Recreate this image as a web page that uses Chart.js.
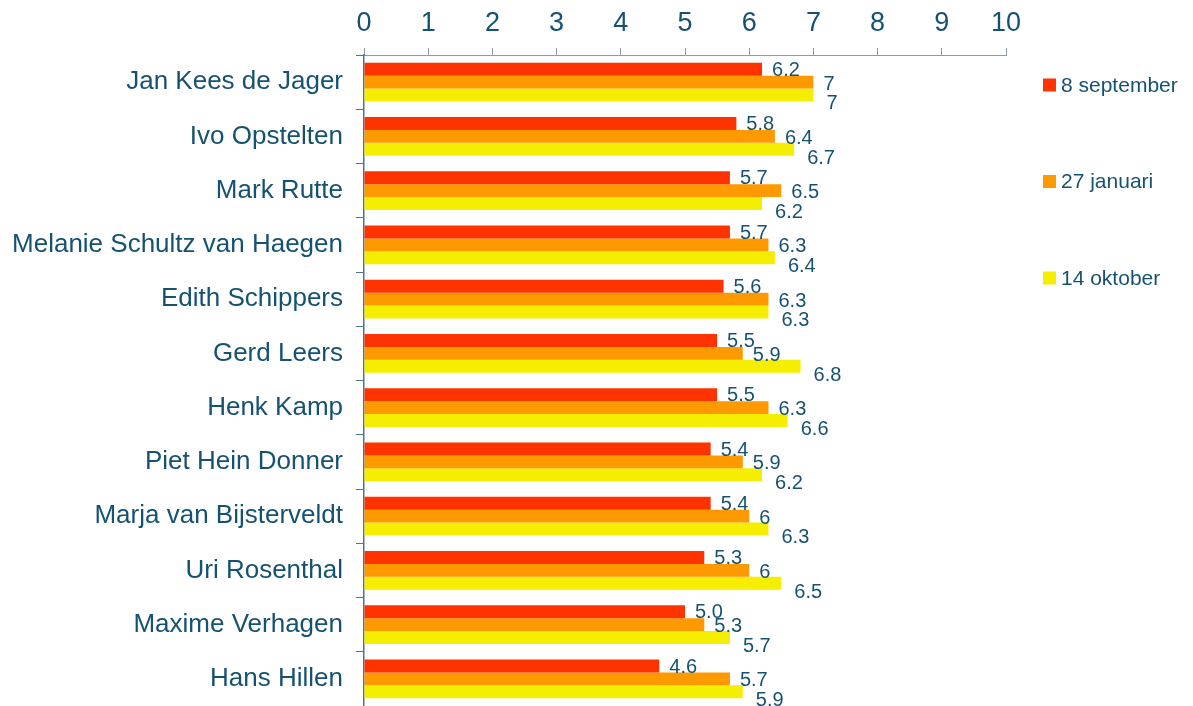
<!DOCTYPE html>
<html>
<head>
<meta charset="utf-8">
<script src="https://cdn.jsdelivr.net/npm/chart.js@4"></script>
<style>
  body { margin: 0; background: #fff; }
  #wrap { width: 1193px; height: 706px; }
</style>
</head>
<body>
<div id="wrap"><canvas id="myBarChart"></canvas></div>
<script>
var names = ['Jan Kees de Jager', 'Ivo Opstelten', 'Mark Rutte', 'Melanie Schultz van Haegen',
  'Edith Schippers', 'Gerd Leers', 'Henk Kamp', 'Piet Hein Donner', 'Marja van Bijsterveldt',
  'Uri Rosenthal', 'Maxime Verhagen', 'Hans Hillen'];
var september = [6.2, 5.8, 5.7, 5.7, 5.6, 5.5, 5.5, 5.4, 5.4, 5.3, 5.0, 4.6];
var januari = [7, 6.4, 6.5, 6.3, 6.3, 5.9, 6.3, 5.9, 6, 6, 5.3, 5.7];
var oktober = [7, 6.7, 6.2, 6.4, 6.3, 6.8, 6.6, 6.2, 6.3, 6.5, 5.7, 5.9];
var xTicks = [0, 1, 2, 3, 4, 5, 6, 7, 8, 9, 10];

var textColor = '#155272';
var fontFamily = '"Liberation Sans", Arial, sans-serif';

var data = {
  labels: names,
  datasets: [
    { label: '8 september', data: september, backgroundColor: '#FF3300', decimals: 1 },
    { label: '27 januari', data: januari, backgroundColor: '#FF9900', decimals: 0 },
    { label: '14 oktober', data: oktober, backgroundColor: '#F5EE00', decimals: 0 }
  ]
};

// value labels next to the bar ends
var labelOffsets = [[10, 1], [10, 2], [13, 9]];
var valueLabels = {
  id: 'valueLabels',
  afterDatasetsDraw: function(chart) {
    var ctx = chart.ctx;
    ctx.save();
    ctx.fillStyle = textColor;
    ctx.font = '20px ' + fontFamily;
    ctx.textAlign = 'left';
    ctx.textBaseline = 'middle';
    chart.data.datasets.forEach(function(ds, i) {
      chart.getDatasetMeta(i).data.forEach(function(bar, j) {
        var v = ds.data[j];
        var txt = ds.decimals ? v.toFixed(1) : String(v);
        ctx.fillText(txt, bar.x + labelOffsets[i][0], bar.y + labelOffsets[i][1]);
      });
    });
    ctx.restore();
  }
};

// legend spread down the right side
var sideLegend = {
  id: 'sideLegend',
  afterDraw: function(chart) {
    var ctx = chart.ctx;
    var area = chart.chartArea;
    ctx.save();
    ctx.font = '21px ' + fontFamily;
    ctx.textBaseline = 'middle';
    ctx.textAlign = 'left';
    chart.data.datasets.forEach(function(ds, i) {
      var y = area.top + 30 + i * 96.5;
      ctx.fillStyle = ds.backgroundColor;
      ctx.fillRect(area.right + 37, y - 6.5, 13, 13);
      ctx.fillStyle = textColor;
      ctx.fillText(ds.label, area.right + 55, y + 1);
    });
    ctx.restore();
  }
};

var options = {
  indexAxis: 'y',
  responsive: true,
  maintainAspectRatio: false,
  animation: false,
  layout: { padding: { top: 0, right: 187, bottom: 0, left: 0 } },
  datasets: {
    bar: { categoryPercentage: 0.71, barPercentage: 1.0 }
  },
  scales: {
    x: {
      position: 'top',
      min: 0,
      max: 10,
      afterBuildTicks: function(scale) {
        scale.ticks = xTicks.map(function(v) { return { value: v }; });
      },
      afterFit: function(scale) { scale.height = 55; },
      grid: { drawOnChartArea: false, tickLength: 7, color: '#8D9BA7' },
      border: { color: '#8D9BA7' },
      ticks: { color: textColor, padding: 8, font: { family: fontFamily, size: 27 } }
    },
    y: {
      afterFit: function(scale) {
        scale.width = 364;
        scale.paddingTop = 0;
        scale.paddingBottom = 0;
      },
      grid: { drawOnChartArea: false, tickLength: 8, color: '#4F7489', offset: true },
      border: { color: '#4F7489', width: 1.5 },
      ticks: { color: textColor, padding: 13, font: { family: fontFamily, size: 26 } }
    }
  },
  plugins: {
    legend: { display: false },
    tooltip: { enabled: false }
  }
};

var ctx = document.getElementById('myBarChart').getContext('2d');
var myBarChart = new Chart(ctx, {
  type: 'bar',
  data: data,
  options: options,
  plugins: [valueLabels, sideLegend]
});
</script>
</body>
</html>
